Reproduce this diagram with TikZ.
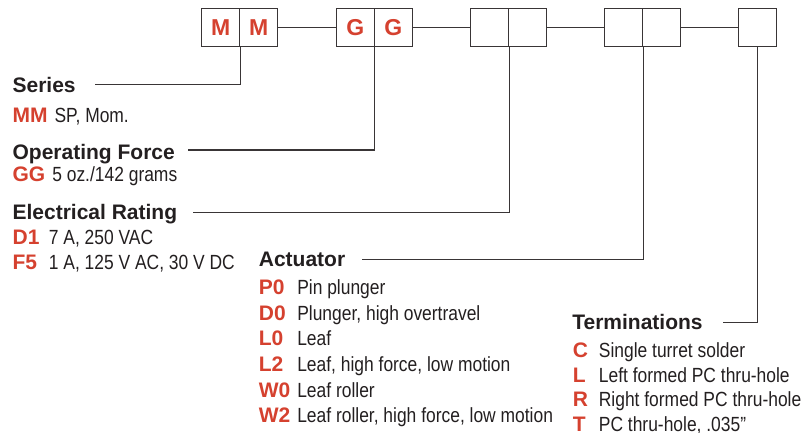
\documentclass[tikz,border=0pt]{standalone}
\usepackage{fontspec}
\setmainfont{Liberation Sans}
\newfontfamily\condfont[FakeStretch=0.85]{Liberation Sans}
\definecolor{ink}{HTML}{231F20}
\definecolor{accent}{HTML}{D5412F}
\begin{document}
\begin{tikzpicture}[x=1pt,y=-1pt,
  line width=1.2pt,
  lead/.style={draw=ink!90, line width=1.1pt},
  box/.style={draw=ink!90, line width=1.2pt, minimum width=38pt, minimum height=38pt, inner sep=0, text=accent, font=\fontsize{23}{23}\selectfont\bfseries},
  head/.style={anchor=base west, inner sep=0, text=ink, font=\fontsize{21}{21}\selectfont\bfseries},
  code/.style={anchor=base west, inner sep=0, text=accent, font=\fontsize{21}{21}\selectfont\bfseries},
  desc/.style={anchor=base west, inner sep=0, text=ink, font=\condfont\fontsize{20.5}{20.5}\selectfont}]
\useasboundingbox (0,0) rectangle (804,433);
% boxes
\node[box] (b1) at (220.8,27.2) {M};
\node[box] (b2) at (258.8,27.2) {M};
\node[box] (b3) at (355.2,27.2) {G};
\node[box] (b4) at (393.2,27.2) {G};
\node[box] (b5) at (489.7,27.2) {};
\node[box] (b6) at (527.6,27.2) {};
\node[box] (b7) at (623.7,27.2) {};
\node[box] (b8) at (661.7,27.2) {};
\node[box] (b9) at (757.7,27.2) {};
\draw[lead] (b2.east) -- (b3.west);
\draw[lead] (b4.east) -- (b5.west);
\draw[lead] (b6.east) -- (b7.west);
\draw[lead] (b8.east) -- (b9.west);
% Series
\node[head] (hs) at (12,92.3) {Series};
\node[code] (cmm) at (12,122.3) {MM};
\node[desc] (dmm) at (54,122.3) {SP, Mom.};
% Operating force
\node[head] (hf) at (12,159.3) {Operating Force};
\node[code] (cgg) at (12,181.7) {GG};
\node[desc] (dgg) at (51.7,181.7) {5 oz./142 grams};
% Electrical rating
\node[head] (he) at (12,219) {Electrical Rating};
\node[code] (cd1) at (12,244.3) {D1};
\node[desc] (dd1) at (48.3,244.3) {7 A, 250 VAC};
\node[code] (cf5) at (12,269.3) {F5};
\node[desc] (df5) at (48.3,269.3) {1 A, 125 V AC, 30 V DC};
% Actuator
\node[head] (ha) at (258.3,266) {Actuator};
\node[code] (cp0) at (258.3,294.3) {P0};
\node[desc] (dp0) at (296.7,294.3) {Pin plunger};
\node[code] (cd0) at (258.3,320) {D0};
\node[desc] (dd0) at (296.7,320) {Plunger, high overtravel};
\node[code] (cl0) at (258.3,345.7) {L0};
\node[desc] (dl0) at (296.7,345.7) {Leaf};
\node[code] (cl2) at (258.3,371.4) {L2};
\node[desc] (dl2) at (296.7,371.4) {Leaf, high force, low motion};
\node[code] (cw0) at (258.3,397.1) {W0};
\node[desc] (dw0) at (296.7,397.1) {Leaf roller};
\node[code] (cw2) at (258.3,422.8) {W2};
\node[desc] (dw2) at (296.7,422.8) {Leaf roller, high force, low motion};
% Terminations
\node[head] (ht) at (571.7,329.5) {Terminations};
\node[code] (cc) at (572.3,357) {C};
\node[desc] (dc) at (598.3,357) {Single turret solder};
\node[code] (cl) at (572.3,382) {L};
\node[desc] (dl) at (598.3,382) {Left formed PC thru-hole};
\node[code] (cr) at (572.3,406.5) {R};
\node[desc] (dr) at (598.3,406.5) {Right formed PC thru-hole};
\node[code] (ct) at (572.3,431) {T};
\node[desc] (dt) at (598.3,431) {PC thru-hole, .035”};
% leader lines
\coordinate (s1) at (95,84.3);
\coordinate (s2) at (188,150);
\coordinate (s3) at (193,212.7);
\coordinate (s4) at (362,259.3);
\coordinate (s5) at (723,322.3);
\draw[lead] (s1) -| (b1.south east);
\draw[lead] (s2) -| (b3.south east);
\draw[lead] (s3) -| (b5.south east);
\draw[lead] (s4) -| (b7.south east);
\draw[lead] (s5) -| (b9.south);
\end{tikzpicture}
\end{document}
